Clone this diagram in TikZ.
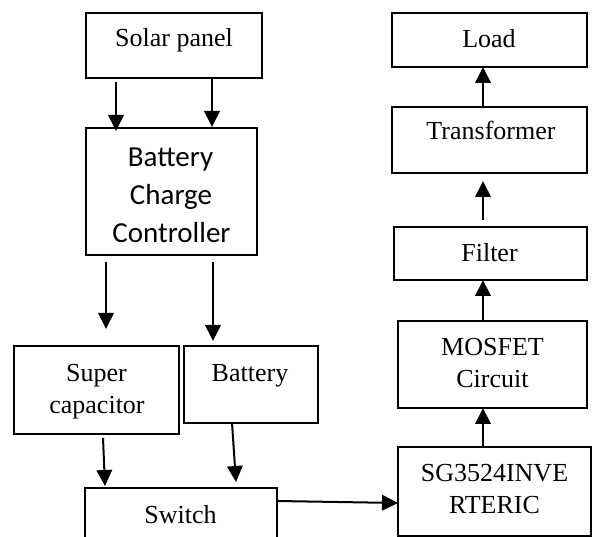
\documentclass[tikz,border=0pt]{standalone}
\usepackage{fontspec}
\setmainfont{Liberation Serif}
\newfontfamily\carlitofont{Carlito}
\usetikzlibrary{arrows.meta,calc}
\tikzset{
  blk/.style={draw=black, line width=1.5pt, inner sep=0pt, outer sep=0pt, fill=none},
  txt/.style={inner sep=0pt, outer sep=0pt, anchor=base, font=\fontsize{26}{30}\selectfont},
  ctxt/.style={inner sep=0pt, outer sep=0pt, anchor=base, font=\carlitofont\fontsize{29}{35}\selectfont},
  arr/.style={line width=2pt, -{Triangle[length=16pt,width=15.5pt]}}
}
\begin{document}
\begin{tikzpicture}[x=1pt,y=-1pt]
\clip (0,0) rectangle (595,537);
\fill[white] (0,0) rectangle (595,537);
% boxes
\node[blk, minimum width=176pt, minimum height=65pt] (sp) at (174,45.5) {};
\node[blk, minimum width=171pt, minimum height=127pt] (bcc) at (171.5,191.5) {};
\node[blk, minimum width=165pt, minimum height=88pt] (sc) at (96.5,390) {};
\node[blk, minimum width=134pt, minimum height=77pt] (bat) at (251,384.5) {};
\node[blk, minimum width=192pt, minimum height=72pt] (sw) at (181,524) {};
\node[blk, minimum width=193pt, minimum height=89pt] (sg) at (494.5,491.5) {};
\node[blk, minimum width=189pt, minimum height=87pt] (mos) at (492.5,364.5) {};
\node[blk, minimum width=193pt, minimum height=53pt] (fil) at (490.5,253.5) {};
\node[blk, minimum width=195pt, minimum height=66pt] (tr) at (489.5,140) {};
\node[blk, minimum width=195pt, minimum height=54pt] (load) at (489.5,40) {};
% texts
\node[txt] (tsp) at (174,47) {Solar panel};
\node[ctxt] (tbcc1) at (170.5,167) {Battery};
\node[ctxt] (tbcc2) at (171,205) {Charge};
\node[ctxt] (tbcc3) at (171.5,243) {Controller};
\node[txt] (tsc1) at (96.5,382) {Super};
\node[txt] (tsc2) at (97,414) {capacitor};
\node[txt] (tbat) at (250,382) {Battery};
\node[txt] (tsw) at (180.5,523) {Switch};
\node[txt] (tsg1) at (494.5,482) {SG3524INVE};
\node[txt] (tsg2) at (494.5,513) {RTERIC};
\node[txt] (tmos1) at (492.5,356) {MOSFET};
\node[txt] (tmos2) at (492.5,388) {Circuit};
\node[txt] (tfil) at (489.5,262) {Filter};
\node[txt] (ttr) at (491,140) {Transformer};
\node[txt] (tload) at (489,48) {Load};
% arrows
\draw[arr] ($(sp.south west)+(30,4)$) -- ($(bcc.north west)+(30,3)$);
\draw[arr] ($(sp.south west)+(126,0)$) -- ($(bcc.north west)+(126,-1)$);
\draw[arr] ($(bcc.south west)+(20,7)$) -- ($(sc.north west)+(92,-17)$);
\draw[arr] ($(bcc.south west)+(127,7)$) -- ($(bat.north west)+(29,-5)$);
\draw[arr] ($(sc.south west)+(89,4)$) -- ($(sw.north west)+(20,-2)$);
\draw[arr] ($(bat.south west)+(48,0)$) -- ($(sw.north west)+(151,-6)$);
\draw[arr] ($(sw.north east)+(0,13)$) -- ($(sg.west)+(0,11.5)$);
\draw[arr] ($(sg.north west)+(85,0)$) -- ($(mos.south west)+(85,0)$);
\draw[arr] ($(mos.north west)+(85,0)$) -- ($(fil.south west)+(89,0)$);
\draw[arr] ($(fil.north west)+(89,-7)$) -- ($(tr.south west)+(91,8)$);
\draw[arr] ($(tr.north west)+(91,0)$) -- ($(load.south west)+(91,0)$);
\end{tikzpicture}
\end{document}
